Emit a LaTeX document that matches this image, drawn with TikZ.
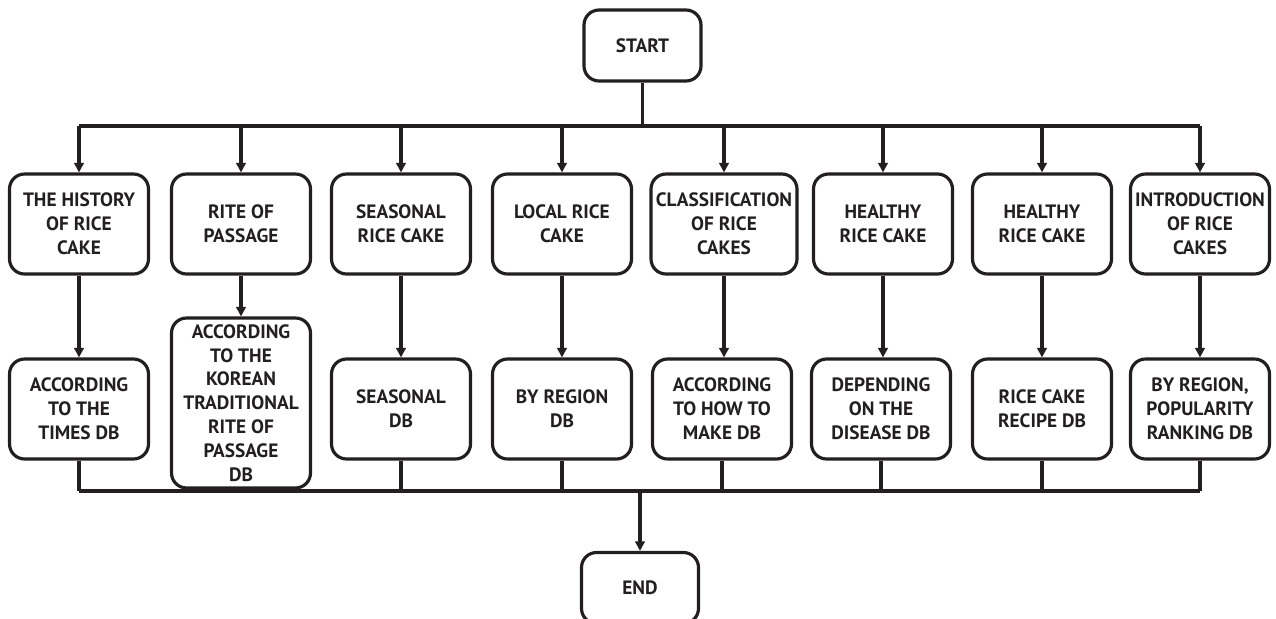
\documentclass[tikz,border=0pt]{standalone}
\usepackage{fontspec}
\setmainfont{PT Sans}
\usetikzlibrary{arrows.meta}
\definecolor{ink}{HTML}{231F20}
\tikzset{
  box/.style={draw=ink, line width=1.8pt, rounded corners=0.3cm, align=center,
    minimum width=2.78cm, minimum height=2.0cm, inner sep=1pt, text=ink,
    font=\fontsize{11}{13.6}\selectfont\bfseries},
  term/.style={box, minimum width=2.34cm, minimum height=1.42cm},
  wire/.style={draw=ink, line width=1.9pt},
  arr/.style={wire, -{Triangle[width=5.5pt,length=5.5pt]}},
  bus/.style={draw=ink, line width=2.4pt}
}
\begin{document}
\begin{tikzpicture}[x=0.02cm, y=-0.02cm]
\useasboundingbox (0,0) rectangle (1276,619);
\clip (0,0) rectangle (1276,619);
\node[term] (start) at (642.5,45.5) {START};
\node[term] (end) at (640,588) {END};
% top row
\node[box] (t1) at (79,224) {THE HISTORY\\OF RICE\\CAKE};
\node[box] (t2) at (241,224) {RITE OF\\PASSAGE};
\node[box] (t3) at (401,224) {SEASONAL\\RICE CAKE};
\node[box] (t4) at (562,224) {LOCAL RICE\\CAKE};
\node[box, minimum width=2.92cm] (t5) at (724,224) {CLASSIFICATION\\OF RICE\\CAKES};
\node[box] (t6) at (883,224) {HEALTHY\\RICE CAKE};
\node[box] (t7) at (1042,224) {HEALTHY\\RICE CAKE};
\node[box] (t8) at (1200,224) {INTRODUCTION\\OF RICE\\CAKES};
% bottom row
\node[box] (b1) at (79,409) {ACCORDING\\TO THE\\TIMES DB};
\node[box, minimum height=3.4cm] (b2) at (241,403) {ACCORDING\\TO THE\\KOREAN\\TRADITIONAL\\RITE OF\\PASSAGE\\DB};
\node[box] (b3) at (401,409) {SEASONAL\\DB};
\node[box] (b4) at (562,409) {BY REGION\\DB};
\node[box] (b5) at (722,409) {ACCORDING\\TO HOW TO\\MAKE DB};
\node[box] (b6) at (881,409) {DEPENDING\\ON THE\\DISEASE DB};
\node[box] (b7) at (1042,409) {RICE CAKE\\RECIPE DB};
\node[box] (b8) at (1200,409) {BY REGION,\\POPULARITY\\RANKING DB};
% buses
\coordinate (topbus) at (642.5,126);
\coordinate (botbus) at (640,491);
\draw[wire] (start.south) -- (topbus);
\draw[bus] (t1.north |- topbus) -- (t8.north |- topbus);
\foreach \n in {t1,t2,t3,t4,t5,t6,t7,t8}
  \draw[arr] (\n.north |- topbus) -- (\n.north);
\foreach \a/\b in {t1/b1,t2/b2,t3/b3,t4/b4,t5/b5,t6/b6,t7/b7,t8/b8}
  \draw[arr] (\a.south) -- (\a.south |- \b.north);
\draw[bus] (b1.south |- botbus) -- (b8.south |- botbus);
\foreach \n in {b1,b3,b4,b5,b6,b7,b8}
  \draw[wire] (\n.south) -- (\n.south |- botbus);
\draw[arr] (botbus) -- (end.north);
\end{tikzpicture}
\end{document}
